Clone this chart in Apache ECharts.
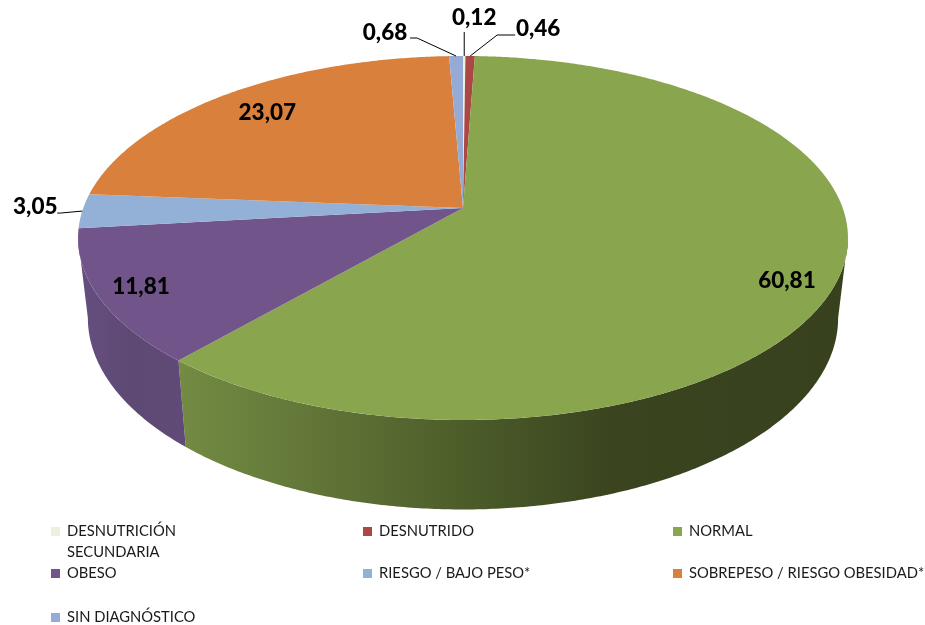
<!DOCTYPE html>
<html>
<head>
<meta charset="utf-8">
<style>html,body{margin:0;padding:0;background:#fff}#c{width:925px;height:625px}</style>
<script src="https://cdn.jsdelivr.net/npm/echarts@6/dist/echarts.min.js"></script>
</head>
<body>
<div id="c"></div>
<script>
const categories = ['DESNUTRICIÓN SECUNDARIA','DESNUTRIDO','NORMAL','OBESO','RIESGO / BAJO PESO*','SOBREPESO / RIESGO OBESIDAD*','SIN DIAGNÓSTICO'];
const values = [0.12,0.46,60.81,11.81,3.05,23.07,0.68];
const valueLabels = ['0,12','0,46','60,81','11,81','3,05','23,07','0,68'];

// styles and layout, separate from the data
const colors = ['#EAF1DD','#AB4744','#89A54E','#71558A','#93B1D7','#D9803C','#95ABD5'];
const wallStops = {
  2: [[0,'#738B43'],[0.2,'#627638'],[0.45,'#4A5A28'],[0.65,'#3A441F'],[1,'#38411E']],
  3: [[0,'#644F80'],[0.5,'#5E4974'],[1,'#604B78']]
};
// offset of the label from the slice's mid-rim point; leader elbows where used
const labelOffset = [[10,-38],[68,-27],[-52,4],[42,-11],[-47,-4],[40,19],[-71,-23]];
const leaderElbow = [[0,-24],[27,-21],[null],[null],[-22,2],[null],[-39,-18]];
const leaderEnd = [[0,-24],[45,-21],[null],[null],[-25,2],[null],[-46,-18]];
const legendPos = [[51,0],[363,0],[673,0],[51,1],[363,1],[673,1],[51,2]];
const legendRowTop = [532,574,618];

// perspective projection of the pie disc
const CX = 463, C = 0.1648;
const TOP = {A:379.7, a:-142.8, b:208};
const BOT = {A:370, a:-139, b:286.5};
function project(ring, deg, r) {
  r = r === undefined ? 1 : r;
  const t = deg*Math.PI/180, u = r*Math.sin(t), v = r*Math.cos(t), d = 1 + C*v;
  return [CX + ring.A*u/d, (ring.a*v + ring.b)/d];
}
const total = values.reduce((s,v)=>s+v,0);
function range(i){
  let s = 0;
  for (let k=0;k<i;k++) s += values[k];
  return [s/total*360,(s+values[i])/total*360];
}
function rim(ring,a0,a1){
  const n = Math.max(2,Math.ceil(Math.abs(a1-a0)*2)), pts = [];
  for (let k=0;k<=n;k++) pts.push(project(ring,a0+(a1-a0)*k/n));
  return pts;
}
const WALL_MIN = Math.acos(-C)*180/Math.PI, WALL_MAX = 360-WALL_MIN;

function renderTop(i){
  return function(){
    const [a0,a1] = range(i), mid = (a0+a1)/2, p = project(TOP,mid);
    const children = [{
      type:'polygon',
      shape:{points:[[CX,TOP.b]].concat(rim(TOP,a0,a1))},
      style:{fill:colors[i]}
    }];
    if (leaderEnd[i][0] !== null) {
      children.push({
        type:'polyline',z2:5,
        shape:{points:[
          [p[0]+leaderEnd[i][0],p[1]+leaderEnd[i][1]],
          [p[0]+leaderElbow[i][0],p[1]+leaderElbow[i][1]],
          [p[0],p[1]]
        ]},
        style:{stroke:'#000',lineWidth:1,fill:null}
      });
    }
    children.push({
      type:'text',z2:6,
      style:{
        text:valueLabels[i],
        x:p[0]+labelOffset[i][0],y:p[1]+labelOffset[i][1],
        fill:'#000',font:'900 22.5px Lato',align:'center',verticalAlign:'middle'
      }
    });
    return {type:'group',children};
  };
}
function renderWall(params){
  const i = params.dataIndex;
  const [a0,a1] = range(i);
  const s = Math.max(a0,WALL_MIN), e = Math.min(a1,WALL_MAX);
  if (e <= s) return {type:'group',children:[]};
  const pts = rim(TOP,s,e).concat(rim(BOT,e,s));
  const xs = pts.map(p=>p[0]);
  const x0 = Math.min(...xs), x1 = Math.max(...xs);
  const stops = wallStops[i] || [[0,colors[i]],[1,colors[i]]];
  return {
    type:'polygon',
    shape:{points:pts},
    style:{fill:new echarts.graphic.LinearGradient(x0,0,x1,0,stops.map(p=>({offset:p[0],color:p[1]})),true)}
  };
}

const series = [{
  type:'custom',name:'wall',coordinateSystem:'none',z:2,silent:true,
  data:values.map(v=>[v]),renderItem:renderWall
}].concat(categories.map((name,i)=>({
  type:'custom',name,coordinateSystem:'none',z:3,silent:true,
  itemStyle:{color:colors[i]},
  data:[[values[i]]],renderItem:renderTop(i)
})));

const legend = categories.map((name,i)=>({
  data:[name],selectedMode:false,
  left:legendPos[i][0],
  top:legendRowTop[legendPos[i][1]]-(i===0?32:11),
  itemWidth:9,itemHeight:9,icon:'rect',padding:0,
  textStyle:{
    fontFamily:'Lato',fontSize:14.75,color:'#1a1a1a',lineHeight:21,
    padding:[0,0,0,2],width:260,overflow:'none'
  },
  formatter:n=> i===0 ? '\nDESNUTRICIÓN\nSECUNDARIA' : n
}));

const chart = echarts.init(document.getElementById('c'),null,{renderer:'canvas'});
chart.setOption({backgroundColor:'#fff',animation:false,legend,series});
</script>
</body>
</html>
